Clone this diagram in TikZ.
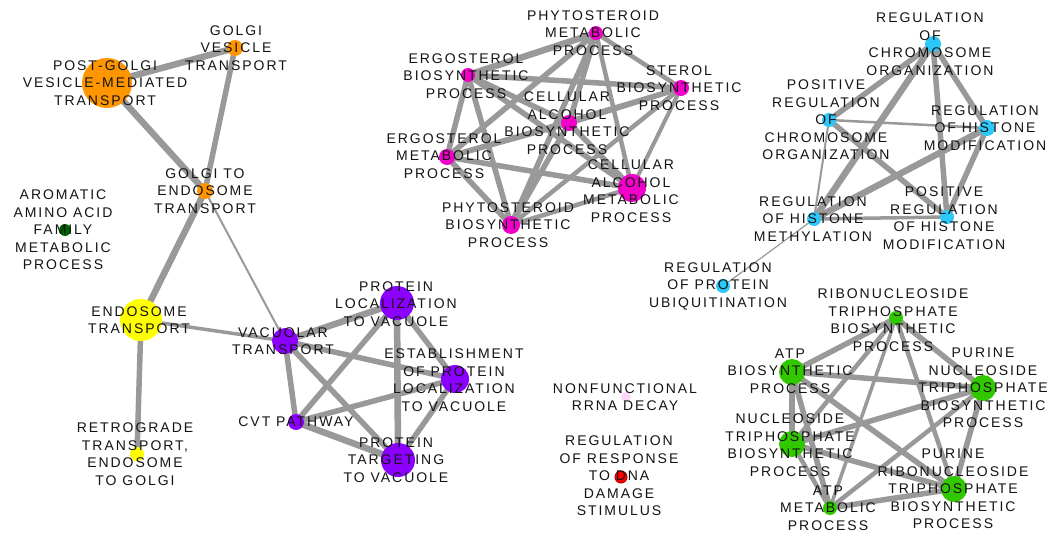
\documentclass[tikz,border=0pt]{standalone}
\usepackage{fontspec}
\newfontfamily\termfont[LetterSpace=14]{Liberation Sans}
\pgfdeclarelayer{bg}
\pgfsetlayers{bg,main}

\definecolor{orangeT}{RGB}{255,150,0}
\definecolor{yellowT}{RGB}{255,255,0}
\definecolor{aminoT}{RGB}{0,100,0}
\definecolor{purpleT}{RGB}{140,0,255}
\definecolor{magentaT}{RGB}{240,0,200}
\definecolor{blueT}{RGB}{45,200,250}
\definecolor{greenT}{RGB}{50,200,0}
\definecolor{paleT}{RGB}{255,215,250}
\definecolor{redT}{RGB}{255,0,0}
\definecolor{edgeT}{RGB}{153,153,153}

\tikzset{
  gs/.style={circle,inner sep=0pt,minimum size=#1},
  term/.style={align=center,inner sep=0pt,text=black!92,
    font=\termfont\fontsize{14}{17.5}\selectfont},
  overlap/.style={draw=edgeT,line width=#1}
}

\begin{document}
\begin{tikzpicture}[x=1pt,y=-1pt]
  \useasboundingbox (0,0) rectangle (1052,538);

  % gene sets
  \node[gs=50,fill=orangeT] (pgvt) at (107,83) {};
  \node[gs=16,fill=orangeT] (gvt) at (235,48) {};
  \node[gs=16,fill=orangeT] (get) at (205,191) {};
  \node[gs=12,fill=aminoT] (aaf) at (65,230) {};
  \node[gs=42,fill=yellowT] (endo) at (141,320) {};
  \node[gs=14,fill=yellowT] (retro) at (137,454) {};

  \node[gs=26,fill=purpleT] (vac) at (285,341) {};
  \node[gs=16,fill=purpleT] (cvt) at (296,422) {};
  \node[gs=34,fill=purpleT] (ploc) at (397,303) {};
  \node[gs=28,fill=purpleT] (eploc) at (455,379) {};
  \node[gs=34,fill=purpleT] (ptarg) at (398,460) {};

  \node[gs=14,fill=magentaT] (phm) at (596,33) {};
  \node[gs=14,fill=magentaT] (ergb) at (468,75) {};
  \node[gs=16,fill=magentaT] (sterb) at (681,88) {};
  \node[gs=16,fill=magentaT] (cab) at (569,123) {};
  \node[gs=16,fill=magentaT] (ergm) at (447,157) {};
  \node[gs=28,fill=magentaT] (cam) at (632,188) {};
  \node[gs=18,fill=magentaT] (phb) at (511,225) {};

  \node[gs=16,fill=blueT] (rco) at (933,44) {};
  \node[gs=14,fill=blueT] (prco) at (829,120) {};
  \node[gs=16,fill=blueT] (rhm) at (987,128) {};
  \node[gs=14,fill=blueT] (rhme) at (814,219) {};
  \node[gs=14,fill=blueT] (prhm) at (947,217) {};
  \node[gs=14,fill=blueT] (rpu) at (723,286) {};

  \node[gs=14,fill=greenT] (rtb) at (896,318) {};
  \node[gs=26,fill=greenT] (atpb) at (792,372) {};
  \node[gs=26,fill=greenT] (pnt) at (983,388) {};
  \node[gs=26,fill=greenT] (ntb) at (792,444) {};
  \node[gs=26,fill=greenT] (prt) at (954,489) {};
  \node[gs=14,fill=greenT] (atpm) at (830,508) {};

  \node[gs=10,fill=paleT] (nrd) at (626,397) {};
  \node[gs=12,fill=redT,draw=red!75!black,line width=1pt] (rrd) at (621,477) {};

  % overlaps, under the circles
  \begin{pgfonlayer}{bg}
    \fill[white] (0,0) rectangle (1052,538);
    \foreach \a/\b/\w in {pgvt/gvt/6.5,pgvt/get/6.5,gvt/get/5.5,get/endo/6.5,
        get/vac/2,endo/vac/3.5,endo/retro/5.5,
        vac/ploc/6.5,vac/eploc/5.5,vac/cvt/5.5,vac/ptarg/5.5,ploc/cvt/5.5,
        ploc/ptarg/6.5,ploc/eploc/5.5,cvt/eploc/5.5,cvt/ptarg/6.5,eploc/ptarg/5.5,
        phm/ergb/6.5,phm/sterb/4.5,phm/cab/5.5,phm/ergm/5.5,phm/cam/4.5,phm/phb/5.5,
        ergb/sterb/5.5,ergb/cab/5.5,ergb/ergm/5.5,ergb/cam/5.5,ergb/phb/5.5,
        sterb/cab/5.5,sterb/ergm/4.5,sterb/cam/4,sterb/phb/4.5,
        cab/ergm/5.5,cab/cam/5.5,cab/phb/5.5,
        ergm/cam/5.5,ergm/phb/5.5,cam/phb/4.5,
        rco/prco/5.5,rco/rhm/5.5,rco/rhme/6.5,rco/prhm/5.5,prco/rhm/2.5,
        prco/rhme/2,prco/prhm/5.5,rhm/rhme/6.5,rhm/prhm/5.5,rhme/prhm/3.5,
        rhme/rpu/1.2,
        rtb/atpb/5.5,rtb/pnt/5.5,rtb/ntb/4.5,rtb/atpm/3.5,rtb/prt/4.5,
        atpb/pnt/5.5,atpb/ntb/6.5,atpb/atpm/5.5,atpb/prt/5.5,
        pnt/ntb/5.5,pnt/prt/5.5,pnt/atpm/4.5,
        ntb/prt/5.5,ntb/atpm/4.5,atpm/prt/5.5}
      \draw[overlap=\w pt] (\a.center) -- (\b.center);
  \end{pgfonlayer}

  % labels
  \node[term] (pgvt-t) at (105,83) {POST-GOLGI\\VESICLE-MEDIATED\\TRANSPORT};
  \node[term] (gvt-t) at (236,48) {GOLGI\\VESICLE\\TRANSPORT};
  \node[term] (get-t) at (205,191) {GOLGI TO\\ENDOSOME\\TRANSPORT};
  \node[term] (aaf-t) at (63,230) {AROMATIC\\AMINO ACID\\FAMILY\\METABOLIC\\PROCESS};
  \node[term] (endo-t) at (139,320) {ENDOSOME\\TRANSPORT};
  \node[term] (retro-t) at (135,454) {RETROGRADE\\TRANSPORT,\\ENDOSOME\\TO GOLGI};

  \node[term] (vac-t) at (283,341) {VACUOLAR\\TRANSPORT};
  \node[term] (cvt-t) at (296,422) {CVT PATHWAY};
  \node[term] (ploc-t) at (396,304) {PROTEIN\\LOCALIZATION\\TO VACUOLE};
  \node[term] (eploc-t) at (454,380) {ESTABLISHMENT\\OF PROTEIN\\LOCALIZATION\\TO VACUOLE};
  \node[term] (ptarg-t) at (396,460) {PROTEIN\\TARGETING\\TO VACUOLE};

  \node[term] (phm-t) at (593,33) {PHYTOSTEROID\\METABOLIC\\PROCESS};
  \node[term] (ergb-t) at (466,76) {ERGOSTEROL\\BIOSYNTHETIC\\PROCESS};
  \node[term] (sterb-t) at (679,88) {STEROL\\BIOSYNTHETIC\\PROCESS};
  \node[term] (cab-t) at (567,123) {CELLULAR\\ALCOHOL\\BIOSYNTHETIC\\PROCESS};
  \node[term] (ergm-t) at (444,156) {ERGOSTEROL\\METABOLIC\\PROCESS};
  \node[term] (cam-t) at (631,191) {CELLULAR\\ALCOHOL\\METABOLIC\\PROCESS};
  \node[term] (phb-t) at (508,225) {PHYTOSTEROID\\BIOSYNTHETIC\\PROCESS};

  \node[term] (rco-t) at (930,44) {REGULATION\\OF\\CHROMOSOME\\ORGANIZATION};
  \node[term] (prco-t) at (826,120) {POSITIVE\\REGULATION\\OF\\CHROMOSOME\\ORGANIZATION};
  \node[term] (rhm-t) at (985,128) {REGULATION\\OF HISTONE\\MODIFICATION};
  \node[term] (rhme-t) at (813,219) {REGULATION\\OF HISTONE\\METHYLATION};
  \node[term] (prhm-t) at (944,218) {POSITIVE\\REGULATION\\OF HISTONE\\MODIFICATION};
  \node[term] (rpu-t) at (718,286) {REGULATION\\OF PROTEIN\\UBIQUITINATION};

  \node[term] (rtb-t) at (893,320) {RIBONUCLEOSIDE\\TRIPHOSPHATE\\BIOSYNTHETIC\\PROCESS};
  \node[term] (atpb-t) at (790,371) {ATP\\BIOSYNTHETIC\\PROCESS};
  \node[term] (pnt-t) at (983,388) {PURINE\\NUCLEOSIDE\\TRIPHOSPHATE\\BIOSYNTHETIC\\PROCESS};
  \node[term] (ntb-t) at (790,445) {NUCLEOSIDE\\TRIPHOSPHATE\\BIOSYNTHETIC\\PROCESS};
  \node[term] (prt-t) at (953,489) {PURINE\\RIBONUCLEOSIDE\\TRIPHOSPHATE\\BIOSYNTHETIC\\PROCESS};
  \node[term] (atpm-t) at (828,508) {ATP\\METABOLIC\\PROCESS};

  \node[term] (nrd-t) at (625,397) {NONFUNCTIONAL\\RRNA DECAY};
  \node[term] (rrd-t) at (619,476) {REGULATION\\OF RESPONSE\\TO DNA\\DAMAGE\\STIMULUS};
\end{tikzpicture}
\end{document}
